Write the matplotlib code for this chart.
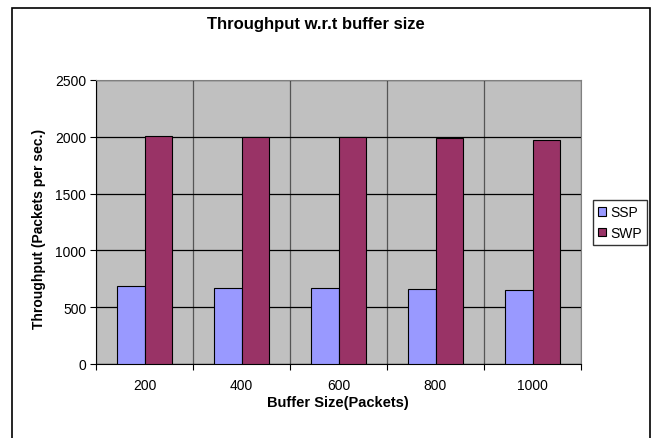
import matplotlib
matplotlib.use('Agg')
import matplotlib.pyplot as plt
from matplotlib.patches import Rectangle
import numpy as np

plt.rcParams['font.family'] = ['Liberation Sans', 'DejaVu Sans']

buffer_sizes = ['200', '400', '600', '800', '1000']
ssp = [684, 669, 669, 657, 649]
swp = [2010, 2001, 2000, 1987, 1975]

fig = plt.figure(figsize=(6.54, 4.39), dpi=100)

# outer chart frame
fig.patches.append(Rectangle((12 / 654, -0.02), 638 / 654, 1 - 9 / 439 + 0.02,
                             transform=fig.transFigure, fill=False,
                             edgecolor='black', linewidth=1.2))

ax = fig.add_axes([96 / 654, 1 - 365 / 439, 485 / 654, 284 / 439])
ax.set_facecolor('#C0C0C0')

x = np.arange(len(buffer_sizes))
w = 0.285
ax.bar(x - w, ssp, w, align='edge', color='#9999FF', edgecolor='black',
       linewidth=0.8, label='SSP', zorder=3)
ax.bar(x, swp, w, align='edge', color='#993366', edgecolor='black',
       linewidth=0.8, label='SWP', zorder=3)

ax.set_xlim(-0.5, len(buffer_sizes) - 0.5)
ax.set_ylim(0, 2500)
ax.set_yticks(range(0, 2501, 500))

# category boundaries as major ticks, labels on minor ticks
ax.set_xticks(np.arange(len(buffer_sizes) + 1) - 0.5)
ax.set_xticklabels([])
ax.set_xticks(x, minor=True)
ax.set_xticklabels(buffer_sizes, minor=True)
ax.tick_params(axis='x', which='major', length=4, direction='out', color='black')
ax.tick_params(axis='x', which='minor', length=0, pad=10, labelsize=10)
ax.tick_params(axis='y', length=4, direction='out', labelsize=10, pad=3)

ax.grid(axis='y', color='black', linewidth=0.9, zorder=1)
ax.grid(axis='x', which='major', color='#555555', linewidth=0.9, zorder=1)
ax.set_axisbelow(True)

for side in ['top', 'right']:
    ax.spines[side].set_color('#808080')
for side in ['left', 'bottom']:
    ax.spines[side].set_color('black')

fig.text(316 / 654, 1 - 24 / 439, 'Throughput w.r.t buffer size', ha='center',
         va='center', fontsize=12, fontweight='bold')
fig.text(338 / 654, 1 - 403 / 439, 'Buffer Size(Packets)', ha='center',
         va='center', fontsize=10.5, fontweight='bold')
fig.text(39.5 / 654, 1 - 229 / 439, 'Throughput (Packets per sec.)', ha='center',
         va='center', rotation=90, fontsize=10, fontweight='bold')

fig.legend(loc='center', bbox_to_anchor=(620 / 654, 1 - 223.5 / 439),
           fontsize=10, frameon=True, fancybox=False, edgecolor='black',
           handlelength=0.6, handleheight=0.6, handletextpad=0.3,
           borderpad=0.35, labelspacing=0.5, borderaxespad=0)

fig.savefig('out.png', dpi=100)
